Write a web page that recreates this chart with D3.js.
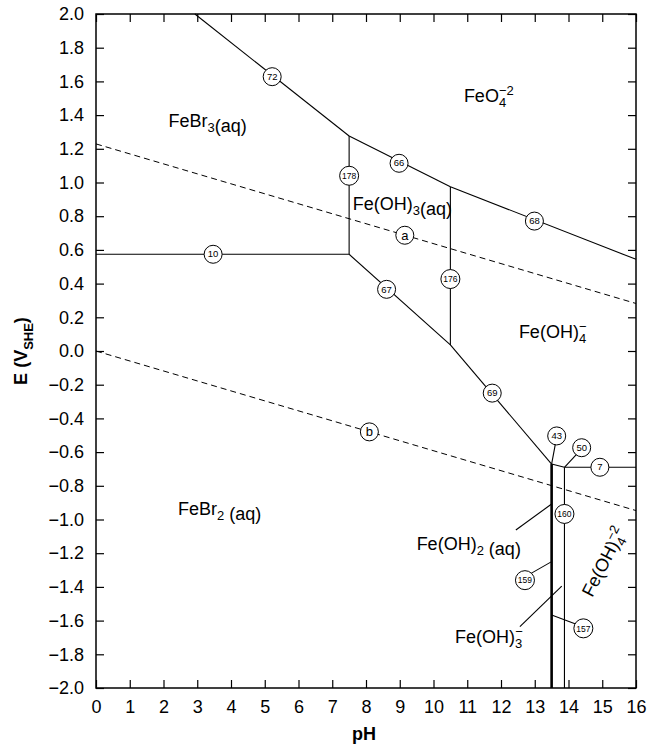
<head>
<meta charset="utf-8">
<style> body { margin: 0; background: #fff; } text { font-family: "Liberation Sans", Arial, sans-serif; } </style>
<script src="https://d3js.org/d3.v7.min.js"></script>
</head>
<body>
<div id="chart"></div>
<script>
// axis ticks
const xTicks = d3.range(0, 17, 1);
const yTicks = d3.range(-2.0, 2.01, 0.2).map(v => +v.toFixed(1));

// phase boundaries, [pH, E] points
const boundaries = [
  [[2.93, 2.0], [7.5, 1.276]],
  [[7.5, 1.276], [10.5, 0.975]],
  [[10.5, 0.975], [16, 0.544]],
  [[7.5, 1.276], [7.5, 0.574]],
  [[0, 0.574], [7.5, 0.574]],
  [[7.5, 0.574], [10.5, 0.036]],
  [[10.5, 0.975], [10.5, 0.036]],
  [[10.5, 0.036], [13.5, -0.671]],
  [[13.5, -0.671], [13.88, -0.69]],
  [[13.88, -0.69], [16, -0.69]],
  [[13.88, -0.69], [13.88, -2.0]]
];
const thickLine = [[13.5, -0.671], [13.5, -2.0]];

// leader lines to circle labels and region names
const leaders = [
  [[13.5, -0.671], [13.63, -0.53]],
  [[13.88, -0.69], [14.3, -0.6]],
  [[12.44, -1.062], [13.5, -0.908]],
  [[12.8, -1.33], [13.5, -1.25]],
  [[12.56, -1.636], [13.8, -1.395]],
  [[13.5, -1.567], [14.35, -1.63]]
];

// water stability lines
const waterLines = [
  [[0, 1.229], [16, 0.282]],
  [[0, 0.0], [16, -0.947]]
];

// numbered circles: label, pH, E
const circles = [
  ["72", 5.22, 1.628], ["66", 8.98, 1.114], ["68", 12.99, 0.771],
  ["178", 7.5, 1.04], ["10", 3.47, 0.574], ["67", 8.61, 0.366],
  ["176", 10.5, 0.427], ["69", 11.74, -0.25], ["43", 13.65, -0.504],
  ["50", 14.39, -0.574], ["7", 14.93, -0.69], ["160", 13.88, -0.967],
  ["159", 12.71, -1.36], ["157", 14.44, -1.646],
  ["a", 9.15, 0.687], ["b", 8.1, -0.48]
];

// region names: parts, pH, E
const regions = [
  [[["FeBr"], ["3", "sub"], ["(aq)"]], 2.15, 1.33],
  [[["FeO"], ["4", "sub", "−2"]], 10.9, 1.478],
  [[["Fe(OH)"], ["3", "sub"], ["(aq)"]], 7.61, 0.837],
  [[["Fe(OH)"], ["4", "sub", "−"]], 12.53, 0.077],
  [[["FeBr"], ["2", "sub"], [" (aq)"]], 2.43, -0.973],
  [[["Fe(OH)"], ["2", "sub"], [" (aq)"]], 9.5, -1.181],
  [[["Fe(OH)"], ["3", "sub", "−"]], 10.64, -1.733]
];

const W = 649, H = 750;
const x = d3.scaleLinear().domain([0, 16]).range([96, 636]);
const y = d3.scaleLinear().domain([-2, 2]).range([688, 14]);

const svg = d3.select("#chart").append("svg").attr("width", W).attr("height", H);
const line = d3.line().x(d => x(d[0])).y(d => y(d[1]));

svg.append("rect").attr("x", x(0)).attr("y", y(2)).attr("width", x(16) - x(0)).attr("height", y(-2) - y(2))
  .attr("fill", "none").attr("stroke", "#000").attr("stroke-width", 1.5);

// axes with inward ticks
const fmt = d => d < 0 ? "\u2212" + Math.abs(d).toFixed(1) : d.toFixed(1);
svg.append("g").attr("transform", `translate(0,${y(-2)})`)
  .call(d3.axisBottom(x).tickValues(xTicks).tickSize(-8).tickPadding(12).tickFormat(d3.format("d")));
svg.append("g").attr("transform", `translate(0,${y(2)})`)
  .call(d3.axisTop(x).tickValues(xTicks).tickSize(-8).tickFormat(""));
svg.append("g").attr("transform", `translate(${x(0)},0)`)
  .call(d3.axisLeft(y).tickValues(yTicks).tickSize(-8).tickPadding(12).tickFormat(fmt));
svg.append("g").attr("transform", `translate(${x(16)},0)`)
  .call(d3.axisRight(y).tickValues(yTicks).tickSize(-8).tickFormat(""));
svg.selectAll(".domain").remove();
svg.selectAll(".tick line").attr("stroke", "#000").attr("stroke-width", 1.2);
svg.selectAll(".tick text").attr("font-size", 18).attr("fill", "#000")
  .style("font-family", "'Liberation Sans', Arial, sans-serif");

svg.append("text").attr("x", 364).attr("y", 740).attr("text-anchor", "middle")
  .attr("font-size", 18).attr("font-weight", "bold").text("pH");
const yl = svg.append("text").attr("transform", `translate(27,${y(0)}) rotate(-90)`)
  .attr("text-anchor", "middle").attr("font-size", 18).attr("font-weight", "bold");
yl.append("tspan").text("E (V");
yl.append("tspan").attr("font-size", 13).attr("dy", 6).text("SHE");
yl.append("tspan").attr("dy", -6).text(")");

// lines
waterLines.forEach(d => svg.append("path").attr("d", line(d)).attr("fill", "none")
  .attr("stroke", "#000").attr("stroke-width", 1).attr("stroke-dasharray", "6,4"));
boundaries.concat(leaders).forEach(d => svg.append("path").attr("d", line(d)).attr("fill", "none")
  .attr("stroke", "#000").attr("stroke-width", 1.1));
svg.append("path").attr("d", line(thickLine)).attr("stroke", "#000").attr("stroke-width", 2.6);

// circles
const cg = svg.selectAll(".lbl").data(circles).enter().append("g")
  .attr("transform", d => `translate(${x(d[1])},${y(d[2])})`);
cg.append("circle").attr("r", d => d[0].length > 2 ? 9.5 : 9).attr("fill", "#fff")
  .attr("stroke", "#000").attr("stroke-width", 1);
cg.append("text").attr("text-anchor", "middle").attr("dy", d => /[ab]/.test(d[0]) ? 4.5 : 3.2)
  .attr("font-size", d => /[ab]/.test(d[0]) ? 13 : (d[0].length > 2 ? 8.5 : 9.5)).text(d => d[0]);

// region names
function writeName(t, parts) {
  parts.forEach(p => {
    if (p.length === 1) {
      t.append("tspan").text(p[0]);
    } else if (p.length === 2) {
      t.append("tspan").attr("font-size", 13).attr("dy", 5).text(p[0]);
      t.append("tspan").attr("dy", -5).text("");
    } else {
      t.append("tspan").attr("font-size", 13).attr("dy", 5).text(p[0]);
      t.append("tspan").attr("font-size", 13).attr("dx", -7.2).attr("dy", -12).text(p[2]);
      t.append("tspan").attr("dy", 7).text("");
    }
  });
}
regions.forEach(r => {
  const t = svg.append("text").attr("x", x(r[1])).attr("y", y(r[2])).attr("font-size", 18);
  writeName(t, r[0]);
});
const rot = svg.append("text").attr("transform", `translate(${x(14.7)},${y(-1.466)}) rotate(-63)`)
  .attr("font-size", 18);
writeName(rot, [["Fe(OH)"], ["4", "sub", "−2"]]);
</script>
</body>
